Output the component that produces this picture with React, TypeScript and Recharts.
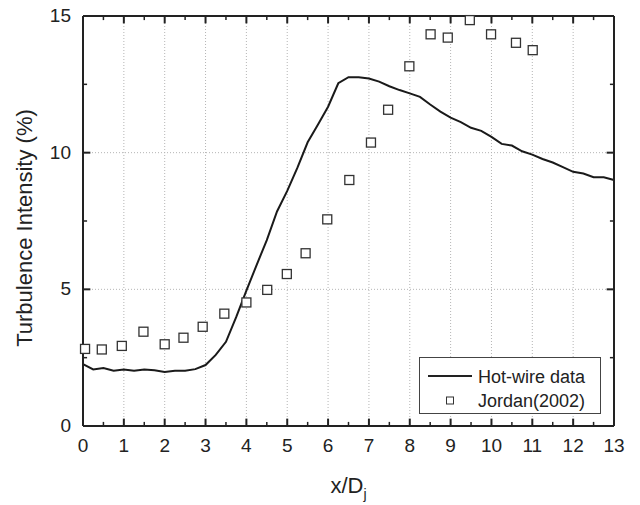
import { ComposedChart, Line, Scatter, XAxis, YAxis, ReferenceLine, Legend, Label } from 'recharts'

// hot-wire trace, every 0.25 x/Dj
const hotWireX = [
  0, 0.25, 0.5, 0.75, 1, 1.25, 1.5, 1.75, 2, 2.25, 2.5, 2.75, 3, 3.25, 3.5, 3.75,
  4, 4.25, 4.5, 4.75, 5, 5.25, 5.5, 5.75, 6, 6.25, 6.5, 6.75, 7, 7.25, 7.5, 7.75,
  8, 8.25, 8.5, 8.75, 9, 9.25, 9.5, 9.75, 10, 10.25, 10.5, 10.75, 11, 11.25, 11.5, 11.75,
  12, 12.25, 12.5, 12.75, 13,
]
const hotWireY = [
  2.26, 2.07, 2.12, 2.02, 2.07, 2.02, 2.07, 2.04, 1.98, 2.02, 2.02, 2.08, 2.23, 2.6, 3.08, 3.98,
  4.95, 5.89, 6.8, 7.85, 8.6, 9.45, 10.38, 11.02, 11.68, 12.54, 12.76, 12.76, 12.71, 12.6, 12.43, 12.29,
  12.17, 12.04, 11.76, 11.5, 11.28, 11.12, 10.91, 10.8, 10.58, 10.32, 10.26, 10.05, 9.93, 9.77, 9.64, 9.47,
  9.3, 9.24, 9.1, 9.1, 9.0,
]

// Jordan (2002) reference points
const jordanX = [
  0.05, 0.46, 0.95, 1.48, 2, 2.46, 2.93, 3.46, 4, 4.51, 4.99, 5.45, 5.98, 6.52,
  7.05, 7.47, 7.99, 8.51, 8.93, 9.47, 9.99, 10.6, 11.01,
]
const jordanY = [
  2.82, 2.8, 2.93, 3.45, 2.99, 3.23, 3.63, 4.11, 4.52, 4.98, 5.56, 6.32, 7.56, 9.0,
  10.37, 11.57, 13.16, 14.33, 14.21, 14.85, 14.33, 14.02, 13.75,
]

const xMajorTicks = [0, 1, 2, 3, 4, 5, 6, 7, 8, 9, 10, 11, 12, 13]
const xMinorTicks = [0.5, 1.5, 2.5, 3.5, 4.5, 5.5, 6.5, 7.5, 8.5, 9.5, 10.5, 11.5, 12.5]
const yMajorTicks = [0, 5, 10, 15]
const yMinorTicks = [2.5, 7.5, 12.5]
const xGrid = [1, 2, 3, 4, 5, 6, 7, 8, 9, 10, 11, 12]
const yGrid = [5, 10]

const X_MIN = 0
const X_MAX = 13
const Y_MIN = 0
const Y_MAX = 15

const hotWire = hotWireX.map((x, i) => ({ x, y: hotWireY[i] }))
const jordan = jordanX.map((x, i) => ({ x, y: jordanY[i] }))

const FONT = '"Liberation Sans", Arial, sans-serif'
const INK = '#222'

// inward tick lengths, in data units (~7px major, ~4px minor)
const X_TICK_MAJOR = 0.27
const X_TICK_MINOR = 0.15
const Y_TICK_MAJOR = 0.18
const Y_TICK_MINOR = 0.1

const BottomLabel = ({ x, y, payload }: any) => (
  <text x={x} y={y + 26} textAnchor="middle" fontSize={19} fontFamily={FONT} fill={INK}>
    {payload.value}
  </text>
)
const LeftLabel = ({ x, y, payload }: any) => (
  <text x={x - 12} y={y + 6} textAnchor="end" fontSize={19} fontFamily={FONT} fill={INK}>
    {payload.value}
  </text>
)

const XTitle = ({ viewBox }: any) => (
  <text
    x={viewBox.x + viewBox.width / 2}
    y={viewBox.y + 67}
    textAnchor="middle"
    fontSize={22}
    fontFamily={FONT}
    fill={INK}
  >
    x/D<tspan fontSize={14} dy={6}>j</tspan>
  </text>
)

const YTitle = ({ viewBox }: any) => {
  const cx = viewBox.x + viewBox.width - 51
  const cy = viewBox.y + viewBox.height / 2 + 7
  return (
    <text
      x={cx}
      y={cy}
      transform={`rotate(-90 ${cx} ${cy})`}
      textAnchor="middle"
      fontSize={22}
      fontFamily={FONT}
      fill={INK}
    >
      Turbulence Intensity (%)
    </text>
  )
}

const Square = ({ cx, cy }: any) => (
  <rect x={cx - 4.5} y={cy - 4.5} width={9} height={9} fill="#fff" stroke="#333" strokeWidth={1.3} />
)

const LegendBox = () => (
  <svg width={182} height={57} style={{ display: 'block' }}>
    <rect x={0.5} y={0.5} width={181} height={56} fill="#fff" stroke="#444" strokeWidth={1} />
    <line x1={9} y1={19} x2={53} y2={19} stroke={INK} strokeWidth={2} />
    <text x={59} y={26} fontSize={18} fontFamily={FONT} fill={INK}>Hot-wire data</text>
    <rect x={27.5} y={40} width={7} height={7} fill="#fff" stroke="#333" strokeWidth={1} />
    <text x={59} y={50} fontSize={18} fontFamily={FONT} fill={INK}>Jordan(2002)</text>
  </svg>
)

const axisLine = { stroke: INK, strokeWidth: 2 }

// tick marks point inward on all four sides of the frame
const xTickMarks = [
  ...xMajorTicks.map(v => ({ v, len: X_TICK_MAJOR, w: 2 })),
  ...xMinorTicks.map(v => ({ v, len: X_TICK_MINOR, w: 1.5 })),
]
const yTickMarks = [
  ...yMajorTicks.map(v => ({ v, len: Y_TICK_MAJOR, w: 2 })),
  ...yMinorTicks.map(v => ({ v, len: Y_TICK_MINOR, w: 1.5 })),
]

const App = () => (
  <>
    <style>{'body{margin:0}'}</style>
    <ComposedChart width={640} height={505} margin={{ top: 15, right: 25, bottom: 78, left: 82 }}>
      {xGrid.map(v => (
        <ReferenceLine key={'gx' + v} x={v} stroke="#b5b5b5" strokeDasharray="1 2" />
      ))}
      {yGrid.map(v => (
        <ReferenceLine key={'gy' + v} y={v} stroke="#b5b5b5" strokeDasharray="1 2" />
      ))}
      {xTickMarks.map(t => (
        <ReferenceLine
          key={'tb' + t.v}
          segment={[{ x: t.v, y: Y_MIN }, { x: t.v, y: Y_MIN + t.len }]}
          stroke={INK}
          strokeWidth={t.w}
        />
      ))}
      {xTickMarks.map(t => (
        <ReferenceLine
          key={'tt' + t.v}
          segment={[{ x: t.v, y: Y_MAX }, { x: t.v, y: Y_MAX - t.len }]}
          stroke={INK}
          strokeWidth={t.w}
        />
      ))}
      {yTickMarks.map(t => (
        <ReferenceLine
          key={'tl' + t.v}
          segment={[{ x: X_MIN, y: t.v }, { x: X_MIN + t.len, y: t.v }]}
          stroke={INK}
          strokeWidth={t.w}
        />
      ))}
      {yTickMarks.map(t => (
        <ReferenceLine
          key={'tr' + t.v}
          segment={[{ x: X_MAX, y: t.v }, { x: X_MAX - t.len, y: t.v }]}
          stroke={INK}
          strokeWidth={t.w}
        />
      ))}
      <XAxis
        dataKey="x"
        type="number"
        domain={[X_MIN, X_MAX]}
        ticks={xMajorTicks}
        interval={0}
        height={1}
        tickSize={0}
        tickMargin={0}
        tickLine={false}
        tick={<BottomLabel />}
        axisLine={axisLine}
      >
        <Label content={XTitle} />
      </XAxis>
      <XAxis
        xAxisId="top"
        orientation="top"
        dataKey="x"
        type="number"
        domain={[X_MIN, X_MAX]}
        ticks={xMajorTicks}
        height={1}
        tickLine={false}
        tick={false}
        axisLine={axisLine}
      />
      <YAxis
        dataKey="y"
        type="number"
        domain={[Y_MIN, Y_MAX]}
        ticks={yMajorTicks}
        interval={0}
        width={1}
        tickSize={0}
        tickMargin={0}
        tickLine={false}
        tick={<LeftLabel />}
        axisLine={axisLine}
      >
        <Label content={YTitle} />
      </YAxis>
      <YAxis
        yAxisId="right"
        orientation="right"
        dataKey="y"
        type="number"
        domain={[Y_MIN, Y_MAX]}
        ticks={yMajorTicks}
        width={1}
        tickLine={false}
        tick={false}
        axisLine={axisLine}
      />
      <Line
        data={hotWire}
        dataKey="y"
        type="linear"
        stroke="#1a1a1a"
        strokeWidth={2}
        dot={false}
        activeDot={false}
        isAnimationActive={false}
      />
      <Scatter data={jordan} dataKey="y" shape={<Square />} isAnimationActive={false} />
      <Legend
        layout="horizontal"
        verticalAlign="middle"
        align="center"
        content={<LegendBox />}
        wrapperStyle={{ left: 419, top: 357, width: 182, height: 57 }}
      />
    </ComposedChart>
  </>
)

export default App
